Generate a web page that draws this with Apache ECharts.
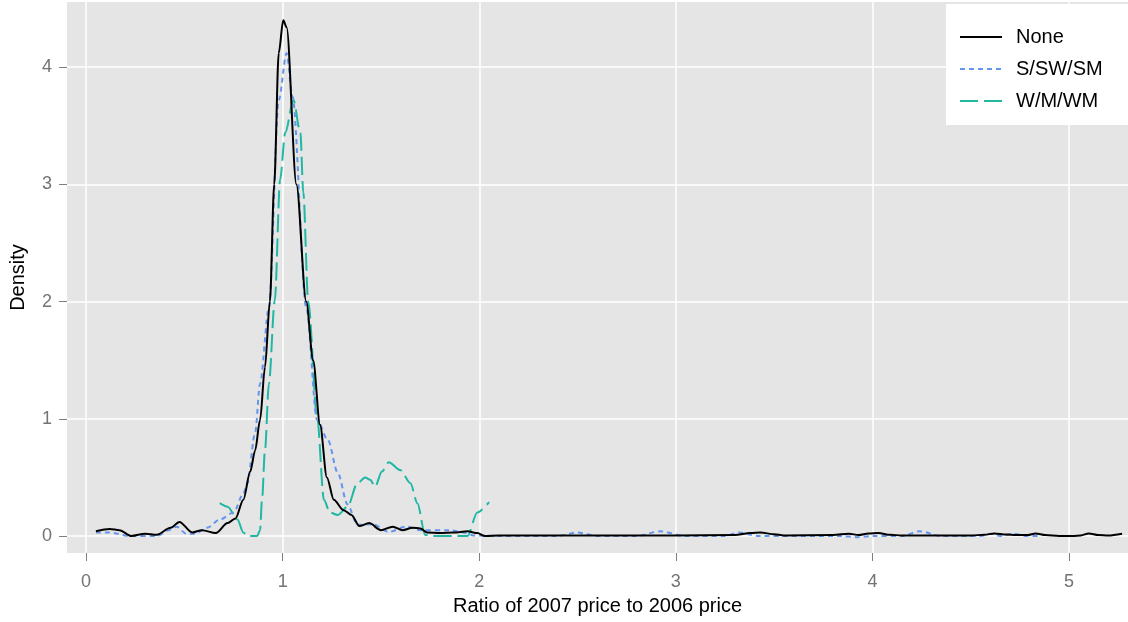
<!DOCTYPE html>
<html>
<head>
<meta charset="utf-8">
<script src="https://cdn.jsdelivr.net/npm/echarts@6/dist/echarts.min.js"></script>
<style>
html,body{margin:0;padding:0;background:#fff;}
#chart{width:1128px;height:622px;}
</style>
</head>
<body>
<div id="chart"></div>
<script>
// ---- data ----
const seriesNames = ['None', 'S/SW/SM', 'W/M/WM'];
const xTicks = [0, 1, 2, 3, 4, 5];
const yTicks = [0, 1, 2, 3, 4];

const noneX = [0.05,0.12,0.17,0.23,0.30,0.36,0.43,0.475,0.54,0.59,0.66,0.72,0.76,0.80,0.835,0.86,0.885,0.91,0.935,0.957,0.98,1.003,1.02,1.07,1.12,1.155,1.19,1.225,1.26,1.31,1.35,1.39,1.44,1.50,1.56,1.61,1.66,1.70,1.735,1.80,1.87,1.94,1.99,2.03,2.1,2.5,3.0,3.3,3.38,3.43,3.5,3.55,3.8,3.88,3.93,3.98,4.03,4.09,4.15,4.5,4.57,4.62,4.68,4.73,4.79,4.83,4.88,4.95,5.02,5.06,5.1,5.15,5.2,5.27];
const noneY = [0.04,0.06,0.05,0.0,0.02,0.01,0.07,0.12,0.03,0.05,0.025,0.11,0.15,0.31,0.55,0.73,0.99,1.44,2.0,3.0,4.12,4.40,4.34,3.0,2.0,1.5,0.95,0.5,0.31,0.22,0.18,0.085,0.11,0.05,0.08,0.05,0.07,0.065,0.03,0.025,0.03,0.04,0.025,0.0,0.005,0.005,0.005,0.008,0.025,0.03,0.015,0.005,0.008,0.02,0.008,0.022,0.025,0.01,0.005,0.005,0.01,0.022,0.012,0.008,0.008,0.022,0.008,0.0,0.0,0.005,0.022,0.008,0.005,0.02];

const sswX = [0.05,0.12,0.22,0.36,0.42,0.46,0.51,0.555,0.615,0.68,0.75,0.80,0.82,0.86,0.885,0.93,0.98,1.02,1.05,1.12,1.175,1.23,1.28,1.33,1.38,1.46,1.54,1.63,1.70,1.85,1.92,1.97,2.1,2.4,2.5,2.6,2.8,2.92,3.05,3.25,3.32,3.42,3.85,3.92,4.0,4.15,4.24,4.35,4.55,4.6,4.65,4.72,4.78,4.85];
const sswY = [0.03,0.03,0.0,0.0,0.05,0.08,0.02,0.02,0.07,0.14,0.2,0.36,0.45,0.88,1.3,1.95,3.72,4.12,3.75,1.95,0.99,0.82,0.54,0.27,0.095,0.1,0.035,0.08,0.05,0.05,0.03,0.005,0.0,0.0,0.03,0.0,0.0,0.04,0.0,0.0,0.03,0.0,0.0,-0.01,0.0,0.0,0.04,0.0,0.0,0.02,0.0,0.02,0.0,0.0];

const wmX = [0.68,0.72,0.77,0.80,0.82,0.87,0.885,0.895,0.91,0.93,0.96,0.987,1.013,1.055,1.09,1.105,1.13,1.175,1.21,1.24,1.28,1.33,1.38,1.42,1.445,1.47,1.505,1.54,1.60,1.65,1.685,1.725,1.75,1.88,1.94,1.99,2.05];
const wmY = [0.28,0.25,0.14,0.03,0.0,0.0,0.05,0.31,0.73,1.3,2.01,3.04,3.44,3.72,3.44,2.93,2.0,1.02,0.31,0.2,0.18,0.25,0.45,0.5,0.48,0.42,0.55,0.63,0.56,0.45,0.28,0.01,0.0,0.0,0.0,0.2,0.29];

const pairs = (xs, ys) => xs.map((x, i) => [x, ys[i]]);

const FONT = '"Liberation Sans", Arial, Helvetica, sans-serif';
const chart = echarts.init(document.getElementById('chart'), null, {renderer: 'canvas'});

chart.setOption({
  animation: false,
  backgroundColor: '#ffffff',
  grid: {left: 67, right: 0, top: 2, bottom: 69, show: true, backgroundColor: '#e5e5e5', borderWidth: 0,
         containLabel: false, outerBoundsMode: 'none'},
  xAxis: {
    type: 'value',
    min: -0.097, max: 5.30,
    name: 'Ratio of 2007 price to 2006 price',
    nameLocation: 'middle', nameGap: 43,
    nameTextStyle: {fontFamily: FONT, fontSize: 20, color: '#000'},
    axisLine: {show: false, onZero: false},
    axisTick: {show: true, length: 8, customValues: xTicks, lineStyle: {color: '#7f7f7f', width: 1}},
    axisLabel: {customValues: xTicks, margin: 20, fontFamily: FONT, fontSize: 18, color: '#737373'},
    splitLine: {show: true, lineStyle: {color: '#ffffff', width: 1.5}}
  },
  yAxis: {
    type: 'value',
    min: -0.145, max: 4.556,
    name: 'Density',
    nameLocation: 'middle', nameGap: 39,
    nameTextStyle: {fontFamily: FONT, fontSize: 20, color: '#000'},
    axisLine: {show: false, onZero: false},
    axisTick: {show: true, length: 8, customValues: yTicks, lineStyle: {color: '#7f7f7f', width: 1}},
    axisLabel: {customValues: yTicks, margin: 15, fontFamily: FONT, fontSize: 18, color: '#737373'},
    splitLine: {show: true, lineStyle: {color: '#ffffff', width: 1.5}}
  },
  legend: {
    left: 946, top: 4,
    orient: 'vertical',
    backgroundColor: '#ffffff',
    padding: [23, 40, 14, 13],
    itemWidth: 42, itemHeight: 14, itemGap: 12,
    itemStyle: {opacity: 0, borderWidth: 0},
    textStyle: {fontFamily: FONT, fontSize: 20, color: '#000', lineHeight: 20, padding: [0, 0, 0, 9]},
    data: seriesNames
  },
  series: [
    {
      name: seriesNames[0], type: 'line', data: pairs(noneX, noneY),
      symbol: 'none', smooth: 0.3, smoothMonotone: 'x',
      lineStyle: {color: '#000000', width: 2, type: 'solid'},
      itemStyle: {color: '#000000'}, z: 4
    },
    {
      name: seriesNames[1], type: 'line', data: pairs(sswX, sswY),
      symbol: 'none', smooth: 0.3, smoothMonotone: 'x',
      lineStyle: {color: '#6495ed', width: 2, type: [5, 4]},
      itemStyle: {color: '#6495ed'}, z: 3
    },
    {
      name: seriesNames[2], type: 'line', data: pairs(wmX, wmY),
      symbol: 'none', smooth: 0.3, smoothMonotone: 'x',
      lineStyle: {color: '#20b8a2', width: 2, type: [18, 6]},
      itemStyle: {color: '#20b8a2'}, z: 2
    }
  ]
});
</script>
</body>
</html>
